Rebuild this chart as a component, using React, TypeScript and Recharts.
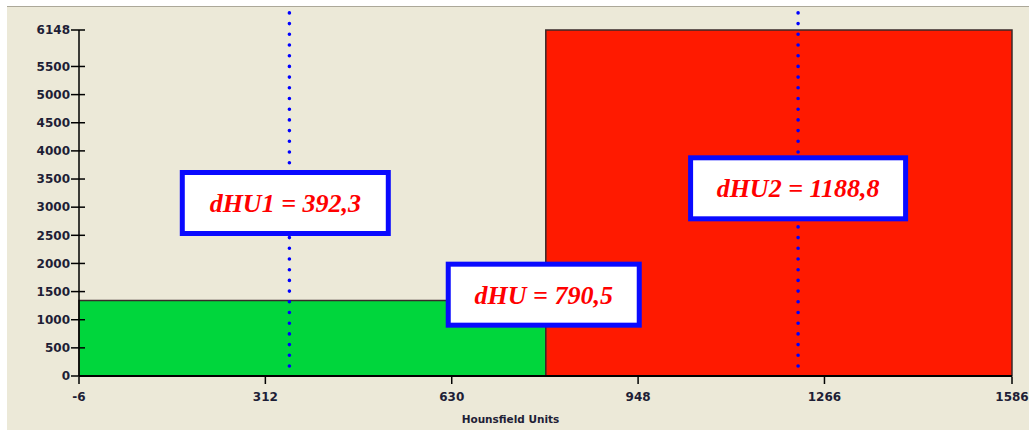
import React from 'react';
import { ComposedChart, XAxis, YAxis, Line, ReferenceArea, ReferenceLine, ReferenceDot } from 'recharts';

// histogram bins (Hounsfield units -> voxel count)
const binStart = [-6, 790.5];
const binEnd = [790.5, 1586];
const binCount = [1340, 6148];

const xTicks = [-6, 312, 630, 948, 1266, 1586];
const yTicks = [0, 500, 1000, 1500, 2000, 2500, 3000, 3500, 4000, 4500, 5000, 5500, 6148];

// dotted marker lines
const markerHU = [353, 1221];
const markerFrom = [178, 178];
const markerTo = [6486, 6486];

// annotation boxes
const labelText = ['dHU1 = 392,3', 'dHU = 790,5', 'dHU2 = 1188,8'];
const labelHU = [346, 787, 1221];
const labelCount = [3074, 1445, 3335];

const binColors = ['#00d63c', '#ff1a00'];
const labelWidths = [211, 196, 220];
const tickFont = { fontFamily: 'DejaVu Sans', fontWeight: 'bold' as const, fontSize: 12, fill: '#1e1e36' };

const histData = binCount.map((c, i) => ({ x: binStart[i], end: binEnd[i], count: c }));

const YTick = ({ x, y, payload }: any) => (
  <g>
    <line x1={x - 8} x2={x + 6} y1={y} y2={y} stroke="#000" strokeWidth={1.5} />
    <text x={x - 9} y={y} dy="0.35em" textAnchor="end" {...tickFont}>{payload.value}</text>
  </g>
);

const XTick = ({ x, y, payload }: any) => (
  <g>
    <line x1={x} x2={x} y1={y + 1} y2={y + 8} stroke="#000" strokeWidth={1.5} />
    <text x={x} y={y + 21} dy="0.35em" textAnchor="middle" {...tickFont}>{payload.value}</text>
  </g>
);

const makeBox = (text: string, w: number) => (props: any) => {
  const { cx, cy } = props;
  const h = 66;
  return (
    <g>
      <rect x={cx - w / 2 + 2.5} y={cy - h / 2 + 2.5} width={w - 5} height={h - 5} fill="#fff" stroke="#0a0aff" strokeWidth={5} />
      <text x={cx} y={cy} dy="0.35em" textAnchor="middle" fill="#ff0000"
        fontFamily="'Liberation Serif', 'Times New Roman', serif" fontWeight="bold" fontStyle="italic" fontSize={26}>
        {text}
      </text>
    </g>
  );
};

export default function App() {
  return (
    <>
      <style>{'html,body{margin:0;overflow:hidden;background:#fff}'}</style>
      <div style={{ position: 'absolute', left: 7, top: 6, width: 1022, height: 423, background: '#ece9d8', borderTop: '1px solid #aca899' }}>
        <ComposedChart width={1022} height={423} margin={{ top: 23, right: 17, bottom: 0, left: 0 }} data={histData}>
          <XAxis
            type="number"
            dataKey="x"
            domain={[-6, 1586]}
            ticks={xTicks}
            interval={0}
            height={54}
            tickSize={0}
            tickMargin={0}
            tick={<XTick />}
            axisLine={{ stroke: '#000', strokeWidth: 2 }}
            label={{ value: 'Hounsfield Units', position: 'insideBottom', offset: 7, dx: -35, style: { ...tickFont, fontSize: 10.5 } }}
          />
          <YAxis
            type="number"
            domain={[0, 6148]}
            ticks={yTicks}
            interval={0}
            width={72}
            tickSize={0}
            tickMargin={0}
            tick={<YTick />}
            axisLine={{ stroke: '#000', strokeWidth: 1.5 }}
          />
          <Line dataKey="count" stroke="none" dot={false} activeDot={false} isAnimationActive={false} />
          {binCount.map((c, i) => (
            <ReferenceArea key={'bin' + i} x1={binStart[i]} x2={binEnd[i]} y1={0} y2={c}
              fill={binColors[i]} fillOpacity={1} stroke="#3a2a2a" strokeWidth={1.5} ifOverflow="visible" />
          ))}
          {markerHU.map((m, i) => (
            <ReferenceLine key={'m' + i} segment={[{ x: m, y: markerFrom[i] }, { x: m, y: markerTo[i] }]}
              stroke="#0000ff" strokeWidth={3.6} strokeDasharray="0 10.7" strokeLinecap="round" ifOverflow="visible" />
          ))}
          {labelText.map((t, i) => (
            <ReferenceDot key={'l' + i} x={labelHU[i]} y={labelCount[i]} ifOverflow="visible"
              shape={makeBox(t, labelWidths[i])} />
          ))}
        </ComposedChart>
      </div>
    </>
  );
}
